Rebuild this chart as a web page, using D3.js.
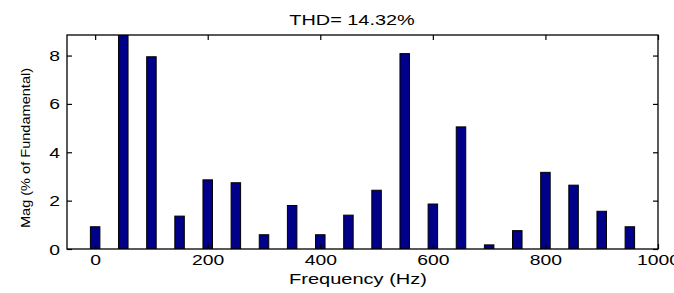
<!DOCTYPE html>
<html>
<head>
<meta charset="utf-8">
<script src="https://cdn.jsdelivr.net/npm/d3@7"></script>
<style>
	body { margin: 0; background: #fff; }
	text { font-family: "Liberation Sans", Arial, sans-serif; fill: #000; }
</style>
</head>
<body>
<div id="chart"></div>
<script>
// harmonic spectrum
var freqs = [0, 50, 100, 150, 200, 250, 300, 350, 400, 450, 500, 550, 600, 650, 700, 750, 800, 850, 900, 950],
	mags = [0.92, 100, 7.95, 1.36, 2.86, 2.74, 0.59, 1.8, 0.59, 1.4, 2.43, 8.08, 1.86, 5.05, 0.17, 0.76, 3.17, 2.64, 1.56, 0.92],
	xTicks = [0, 200, 400, 600, 800, 1000],
	yTicks = [0, 2, 4, 6, 8],
	title = "THD= 14.32%",
	xTitle = "Frequency (Hz)",
	yTitle = "Mag (% of Fundamental)";

var width = 674,
	height = 293,
	margin = {top: 35, right: 16, bottom: 44, left: 67},
	w = width - margin.left - margin.right,
	h = height - margin.top - margin.bottom,
	barWidth = 9.5,
	stretch = 1.38;

var data = freqs.map(function(f, i){ return {freq: f, value: mags[i]}; });

var x = d3.scaleLinear().domain([-50, 1000]).range([0, w]),
	y = d3.scaleLinear().domain([0, 8.85]).range([h, 0]);

var svg = d3.select("#chart")
	.append("svg")
	.attr("width", width)
	.attr("height", height);

svg.append("defs").append("clipPath")
	.attr("id", "plot")
	.append("rect")
	.attr("width", w)
	.attr("height", h);

var g = svg.append("g")
	.attr("transform", "translate(" + margin.left + "," + margin.top + ")");

g.append("g")
	.attr("clip-path", "url(#plot)")
	.selectAll("rect")
	.data(data)
	.enter()
	.append("rect")
	.attr("x", function(d){ return x(d.freq) - barWidth / 2; })
	.attr("width", barWidth)
	.attr("y", function(d){ return y(d.value); })
	.attr("height", function(d){ return h - y(d.value); })
	.attr("fill", "#000088")
	.attr("stroke", "#000")
	.attr("stroke-width", 1);

// axes, MATLAB style: inward ticks on all four sides
function styleAxis(sel){
	sel.select(".domain").remove();
	sel.selectAll("line").attr("stroke", "#000").attr("stroke-width", 1.2);
	sel.selectAll("text").style("font-size", "14px");
}

g.append("g")
	.attr("transform", "translate(0," + h + ")")
	.call(d3.axisBottom(x).tickValues(xTicks).tickSizeInner(-5).tickPadding(10).tickFormat(d3.format("d")))
	.call(styleAxis)
	.selectAll("text")
	.attr("y", 16)
	.attr("dy", 0)
	.attr("transform", "scale(" + stretch + ",1)");

g.append("g")
	.call(d3.axisTop(x).tickValues(xTicks).tickSizeInner(-5).tickFormat(""))
	.call(styleAxis);

g.append("g")
	.call(d3.axisLeft(y).tickValues(yTicks).tickSizeInner(-5).tickFormat(d3.format("d")))
	.call(styleAxis)
	.selectAll("text")
	.attr("x", -7 / stretch)
	.attr("dy", "0.36em")
	.attr("transform", "scale(" + stretch + ",1)");

g.append("g")
	.attr("transform", "translate(" + w + ",0)")
	.call(d3.axisRight(y).tickValues(yTicks).tickSizeInner(-5).tickFormat(""))
	.call(styleAxis);

g.append("rect")
	.attr("width", w)
	.attr("height", h)
	.attr("fill", "none")
	.attr("stroke", "#000")
	.attr("stroke-width", 1.3);

// titles
svg.append("text")
	.attr("transform", "translate(352,25) scale(1.42,1)")
	.attr("text-anchor", "middle")
	.style("font-size", "14px")
	.text(title);

svg.append("text")
	.attr("transform", "translate(358,284) scale(1.38,1)")
	.attr("text-anchor", "middle")
	.style("font-size", "14.5px")
	.text(xTitle);

svg.append("text")
	.attr("transform", "translate(30,148) rotate(-90) scale(1.12,1)")
	.attr("text-anchor", "middle")
	.style("font-size", "13px")
	.text(yTitle);
</script>
</body>
</html>
